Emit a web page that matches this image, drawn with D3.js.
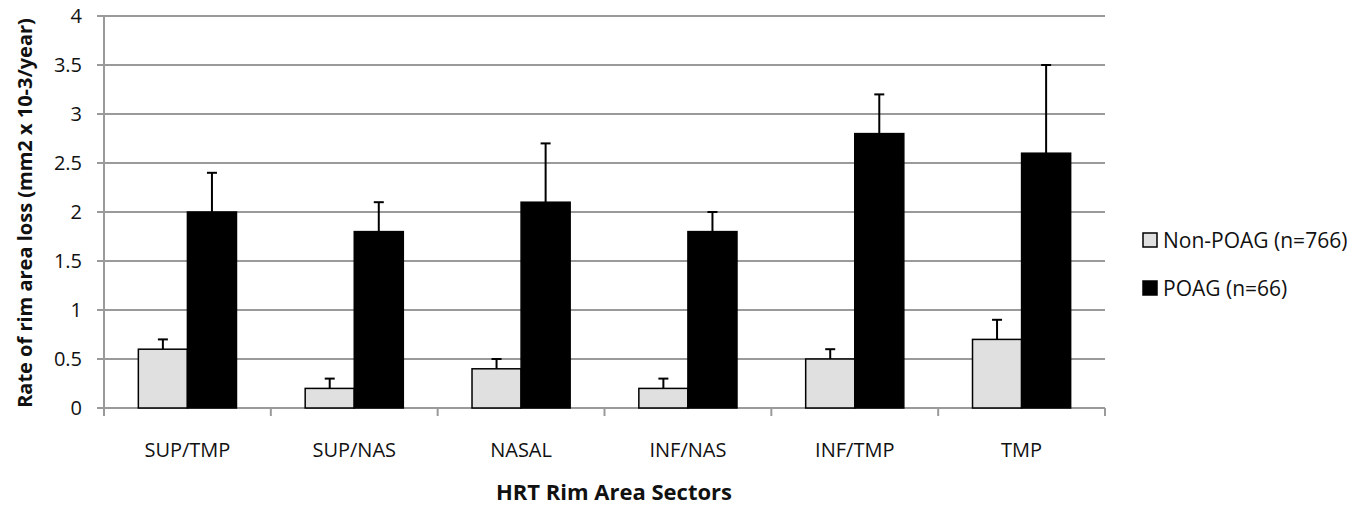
<!DOCTYPE html>
<html>
<head>
<meta charset="utf-8">
<script src="https://cdn.jsdelivr.net/npm/d3@7"></script>
<style>
  body { margin: 0; background: #fff; }
  text { font-family: "Open Sans", Lato, sans-serif; fill: #111; }
</style>
</head>
<body>
<div id="chart"></div>
<script>
// Data
var sectors = ["SUP/TMP", "SUP/NAS", "NASAL", "INF/NAS", "INF/TMP", "TMP"];
var seriesNames = ["Non-POAG (n=766)", "POAG (n=66)"];
var nonPoag = [0.6, 0.2, 0.4, 0.2, 0.5, 0.7];
var nonPoagErr = [0.1, 0.1, 0.1, 0.1, 0.1, 0.2];
var poag = [2.0, 1.8, 2.1, 1.8, 2.8, 2.6];
var poagErr = [0.4, 0.3, 0.6, 0.2, 0.4, 0.9];
var yTicks = [0, 0.5, 1, 1.5, 2, 2.5, 3, 3.5, 4];
var colors = ["#e0e0e0", "#000000"];

var W = 1367, H = 506;
var margin = { top: 16, right: 262, bottom: 98, left: 104 },
    width = W - margin.left - margin.right,
    height = H - margin.top - margin.bottom;

var svg = d3.select("#chart")
    .append("svg")
    .attr("width", W)
    .attr("height", H);
var g = svg.append("g")
    .attr("transform", "translate(" + margin.left + "," + margin.top + ")");

// Scales
var x = d3.scaleBand()
    .domain(sectors)
    .range([0, width])
    .paddingInner(0)
    .paddingOuter(0);
var inner = d3.scaleBand()
    .domain([0, 1])
    .range([0, x.bandwidth()])
    .paddingOuter(0.7)
    .paddingInner(0);
var y = d3.scaleLinear()
    .domain([0, 4])
    .range([height, 0]);

// Gridlines
g.append("g")
    .selectAll("line")
    .data(yTicks)
    .join("line")
    .attr("x1", -7)
    .attr("x2", width)
    .attr("y1", function (d) { return y(d); })
    .attr("y2", function (d) { return y(d); })
    .style("stroke", "#9a9a9a")
    .style("stroke-width", 2);

// Y axis line and labels
g.append("line")
    .attr("x1", 0).attr("x2", 0)
    .attr("y1", 0).attr("y2", height)
    .style("stroke", "#9a9a9a")
    .style("stroke-width", 2);

g.append("g")
    .selectAll("text")
    .data(yTicks)
    .join("text")
    .attr("x", -22)
    .attr("y", function (d) { return y(d); })
    .attr("dy", "0.36em")
    .style("text-anchor", "end")
    .style("font-size", "20px")
    .text(function (d) { return d; });

// X axis category ticks
var bounds = sectors.map(function (s) { return x(s); }).concat([width]);
g.append("g")
    .selectAll("line")
    .data(bounds)
    .join("line")
    .attr("x1", function (d) { return d; })
    .attr("x2", function (d) { return d; })
    .attr("y1", height)
    .attr("y2", height + 8)
    .style("stroke", "#9a9a9a")
    .style("stroke-width", 2);

g.append("g")
    .selectAll("text")
    .data(sectors)
    .join("text")
    .attr("x", function (d) { return x(d) + x.bandwidth() / 2; })
    .attr("y", height + 49)
    .style("text-anchor", "middle")
    .style("font-size", "20px")
    .text(function (d) { return d; });

// Bars
var rows = [];
sectors.forEach(function (s, i) {
    rows.push({ sector: s, k: 0, v: nonPoag[i], e: nonPoagErr[i] });
    rows.push({ sector: s, k: 1, v: poag[i], e: poagErr[i] });
});

// error bars (drawn first so the bar covers the lower part)
var eb = g.append("g");
eb.selectAll("line.stem")
    .data(rows)
    .join("line")
    .attr("class", "stem")
    .attr("x1", function (d) { return x(d.sector) + inner(d.k) + inner.bandwidth() / 2; })
    .attr("x2", function (d) { return x(d.sector) + inner(d.k) + inner.bandwidth() / 2; })
    .attr("y1", function (d) { return y(d.v); })
    .attr("y2", function (d) { return y(d.v + d.e); })
    .style("stroke", "#000")
    .style("stroke-width", 2);
eb.selectAll("line.cap")
    .data(rows)
    .join("line")
    .attr("class", "cap")
    .attr("x1", function (d) { return x(d.sector) + inner(d.k) + inner.bandwidth() / 2 - 5; })
    .attr("x2", function (d) { return x(d.sector) + inner(d.k) + inner.bandwidth() / 2 + 5; })
    .attr("y1", function (d) { return y(d.v + d.e); })
    .attr("y2", function (d) { return y(d.v + d.e); })
    .style("stroke", "#000")
    .style("stroke-width", 2);

g.append("g")
    .selectAll("rect")
    .data(rows)
    .join("rect")
    .attr("x", function (d) { return x(d.sector) + inner(d.k); })
    .attr("y", function (d) { return y(d.v); })
    .attr("width", inner.bandwidth())
    .attr("height", function (d) { return height - y(d.v); })
    .style("fill", function (d) { return colors[d.k]; })
    .style("stroke", "#000")
    .style("stroke-width", 1.5);

// Axis titles
svg.append("text")
    .attr("transform", "translate(32," + (margin.top + 197) + ") rotate(-90)")
    .style("text-anchor", "middle")
    .style("font-size", "20px")
    .style("font-weight", "bold")
    .text("Rate of rim area loss (mm2 x 10-3/year)");

svg.append("text")
    .attr("x", 614)
    .attr("y", 500)
    .style("text-anchor", "middle")
    .style("font-size", "22px")
    .style("font-weight", "bold")
    .text("HRT Rim Area Sectors");

// Legend
var legend = svg.append("g")
    .attr("transform", "translate(1143,233)");
var item = legend.selectAll("g")
    .data(seriesNames)
    .join("g")
    .attr("transform", function (d, i) { return "translate(0," + (i * 48) + ")"; });
item.append("rect")
    .attr("x", 0).attr("y", 0)
    .attr("width", 14).attr("height", 14)
    .style("fill", function (d, i) { return colors[i]; })
    .style("stroke", "#000")
    .style("stroke-width", 1.5);
item.append("text")
    .attr("x", 20)
    .attr("y", 7)
    .attr("dy", "0.36em")
    .style("font-size", "21px")
    .text(function (d) { return d; });
</script>
</body>
</html>
